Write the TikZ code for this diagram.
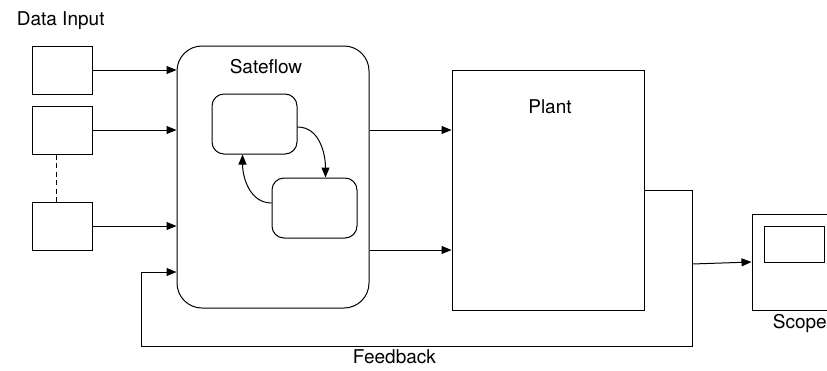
\documentclass[tikz,border=0pt]{standalone}
\usepackage{fontspec}
\setmainfont{TeX Gyre Heros}
\usetikzlibrary{arrows.meta}

\begin{document}
\begin{tikzpicture}[x=1pt,y=-1pt,line width=1pt,>={Triangle[length=10pt,width=8pt]},
    font=\fontsize{19}{22}\selectfont,
    inbox/.style={draw,minimum width=60pt,minimum height=48pt},
    state/.style={draw,rounded corners=12pt,minimum width=85pt,minimum height=60pt}]
        \clip (0,0) rectangle (827,370);
        \node[anchor=base west] (dlabel) at (13,25) {Data Input};
        \node[inbox] (in1) at (62,70) {};
        \node[inbox] (in2) at (62,130) {};
        \node[inbox] (in3) at (62,226) {};
        \draw[dash pattern=on 5pt off 3.5pt] ([xshift=-6pt]in2.south) -- ([xshift=-6pt]in3.north);
        \node[draw,rounded corners=25pt,minimum width=192pt,minimum height=262pt] (sf) at (273,177) {};
        \node[anchor=base] (sflabel) at (266,73) {Sateflow};
        \node[state] (st1) at (254.5,124) {};
        \node[state] (st2) at (314.5,208) {};
        \draw[->] ([yshift=-3pt]st1.east) to[out=0,in=90] ([xshift=11pt]st2.north);
        \draw[->] ([yshift=5pt]st2.west) to[out=180,in=-90] ([xshift=-12pt]st1.south);
        \draw[->] (in1.east) -- (sf.west |- in1.east);
        \draw[->] (in2.east) -- (sf.west |- in2.east);
        \draw[->] (in3.east) -- (sf.west |- in3.east);
        \node[draw,minimum width=192pt,minimum height=240pt] (plant) at (548,190) {};
        \node[anchor=base] (plabel) at (550,113) {Plant};
        \coordinate (out1) at ([yshift=47pt]sf.east);
        \coordinate (out2) at ([yshift=-73pt]sf.east);
        \draw[->] (out1) -- (plant.west |- out1);
        \draw[->] (out2) -- (plant.west |- out2);
        \node[draw,minimum width=96pt,minimum height=96pt] (scope) at (800,262) {};
        \node[draw,minimum width=60pt,minimum height=36pt] (screen) at (794,244) {};
        \node[anchor=base west] (slabel) at (769,328) {Scope};
        \coordinate (fbr) at (692,346);
        \coordinate (fbl) at (141,346);
        \coordinate (tap) at (692,264);
        \draw[->] (plant.east) -| (fbr) -- node[below,pos=0.54]{Feedback} (fbl) |- ([yshift=-95pt]sf.west);
        \draw[->] (tap) -- (scope.west);
        % \draw[very thin,color=gray] (0,0) grid[step=50] (827,370);
      \end{tikzpicture}
\end{document}
